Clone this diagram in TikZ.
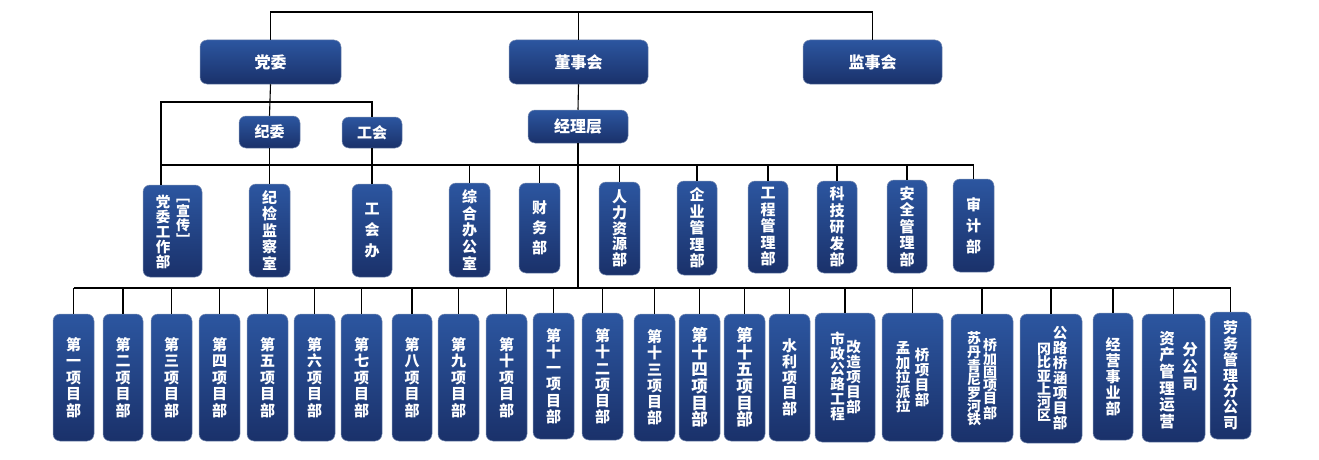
\documentclass[tikz,border=0pt]{standalone}
\usepackage{fontspec}
\newfontfamily\cjk{Noto Sans CJK SC}
\definecolor{boxtop}{RGB}{44,86,160}
\definecolor{boxbot}{RGB}{26,49,106}
\definecolor{boxedge}{RGB}{120,140,178}
\newcommand\vf[2]{\cjk\bfseries\fontsize{#1}{#2}\selectfont}
\tikzset{
  orgbox/.style={rounded corners=7pt, top color=boxtop, bottom color=boxbot,
    draw=boxedge, line width=0.5pt, inner sep=0pt, text=white, align=center,
    font=\vf{15}{16.5}},
  vtext/.style={text=white, align=center, inner sep=0pt},
  link/.style={draw=black, line width=1.1pt},
}
% [options]{name}{x1}{y1}{x2}{y2}{text}
\newcommand\obox[7][]{\node[orgbox,minimum width={#5-#3},minimum height={#6-#4},#1] (#2) at ({(#3+#5)/2},{(#4+#6)/2}) {#7};}
\begin{document}
\begin{tikzpicture}[x=1pt,y=-1pt]
\useasboundingbox (0,0) rectangle (1319,460);

% ---- bus coordinates
\coordinate (ttop) at (578.5,12);
\coordinate (bus1) at (161,102);
\coordinate (bus2) at (161,165);
\coordinate (bus3) at (74,288);

% ---- top level
\obox[font=\vf{16}{18}]{dangwei}{200}{40}{341}{84}{党委}
\obox[font=\vf{16}{18}]{dongshi}{509}{40}{648}{84}{董事会}
\obox[font=\vf{16}{18}]{jianshi}{803}{40}{942}{84}{监事会}

\obox[font=\vf{15}{17}]{jiwei}{239}{116}{300}{148}{纪委}
\obox[font=\vf{15}{17}]{gonghui}{342}{117}{402}{148}{工会}
\obox[font=\vf{16}{18}]{jingli}{528}{110}{628}{143}{经理层}

% ---- second row
\obox{p1}{143}{185}{202}{277}{}
\node[vtext,font=\vf{14.5}{15}] (p1a) at (163,231.5) {党\\委\\工\\作\\部};
\node[vtext,font=\vf{14}{14.5}] (p1b) at (183,222.5) {﹇\\宣\\传\\﹈};
\obox[font=\vf{15}{16.5}]{p2}{249}{184}{290}{277}{纪\\检\\监\\察\\室}
\obox[font=\vf{15}{21}]{p3}{352}{184}{392}{277}{工\\会\\办}
\obox[font=\vf{15}{16.7}]{p4}{449}{183}{490}{277}{综\\合\\办\\公\\室}
\obox[font=\vf{15}{20}]{p5}{519}{183}{560}{273}{财\\务\\部}
\obox[font=\vf{15}{15.8}]{p6}{599}{182}{640}{275}{人\\力\\资\\源\\部}
\obox[font=\vf{15}{16.5}]{p7}{677}{181}{717}{275}{企\\业\\管\\理\\部}
\obox[font=\vf{15}{16.5}]{p8}{748}{181}{788}{273}{工\\程\\管\\理\\部}
\obox[font=\vf{15}{16.5}]{p9}{817}{181}{857}{273}{科\\技\\研\\发\\部}
\obox[font=\vf{15}{16.5}]{p10}{887}{180}{927}{273}{安\\全\\管\\理\\部}
\obox[font=\vf{15}{21}]{p11}{953}{179}{994}{272}{审\\计\\部}

% ---- third row
\obox{b1}{53}{314}{94}{441}{第\\一\\项\\目\\部}
\obox{b2}{103}{314}{143}{441}{第\\二\\项\\目\\部}
\obox{b3}{151}{314}{192}{441}{第\\三\\项\\目\\部}
\obox{b4}{199}{314}{240}{441}{第\\四\\项\\目\\部}
\obox{b5}{247}{314}{288}{441}{第\\五\\项\\目\\部}
\obox{b6}{294}{314}{335}{441}{第\\六\\项\\目\\部}
\obox{b7}{341}{314}{382}{441}{第\\七\\项\\目\\部}
\obox{b8}{392}{314}{432}{441}{第\\八\\项\\目\\部}
\obox{b9}{438}{314}{479}{441}{第\\九\\项\\目\\部}
\obox{b10}{486}{314}{527}{441}{第\\十\\项\\目\\部}
\obox[font=\vf{15}{16.2}]{b11}{533}{313}{574}{439}{第\\十\\一\\项\\目\\部}
\obox[font=\vf{15}{16.2}]{b12}{582}{313}{623}{440}{第\\十\\二\\项\\目\\部}
\obox[font=\vf{15}{16.2}]{b13}{634}{314}{675}{441}{第\\十\\三\\项\\目\\部}
\obox[font=\vf{16.5}{16.8}]{b14}{679}{314}{720}{441}{第\\十\\四\\项\\目\\部}
\obox[font=\vf{16.5}{16.8}]{b15}{724}{314}{765}{441}{第\\十\\五\\项\\目\\部}
\obox[font=\vf{15}{15.8}]{b16}{769}{314}{810}{441}{水\\利\\项\\目\\部}
\obox{b17}{815}{313}{875}{442}{}
\node[vtext,font=\vf{14.5}{15}] (b17a) at (837.5,376) {市\\政\\公\\路\\工\\程};
\node[vtext,font=\vf{14.5}{15}] (b17b) at (853.5,376.5) {改\\造\\项\\目\\部};
\obox{b18}{882}{313}{943}{441}{}
\node[vtext,font=\vf{14.5}{14.5}] (b18a) at (903,377.5) {孟\\加\\拉\\派\\拉};
\node[vtext,font=\vf{14.5}{15.3}] (b18b) at (922,377.5) {桥\\项\\目\\部};
\obox{b19}{951}{314}{1013}{442}{}
\node[vtext,font=\vf{14}{13.3}] (b19a) at (974,379) {苏\\丹\\青\\尼\\罗\\河\\铁};
\node[vtext,font=\vf{14}{13.1}] (b19b) at (990,379) {桥\\加\\固\\项\\目\\部};
\obox{b20}{1020}{314}{1082}{443}{}
\node[vtext,font=\vf{14}{13.3}] (b20a) at (1044,382.5) {冈\\比\\亚\\上\\河\\区};
\node[vtext,font=\vf{14.5}{15}] (b20b) at (1060,378.5) {公\\路\\桥\\涵\\项\\目\\部};
\obox[font=\vf{15}{16}]{b21}{1093}{313}{1133}{440}{经\\营\\事\\业\\部}
\obox{b22}{1142}{314}{1205}{442}{}
\node[vtext,font=\vf{15.5}{16.6}] (b22a) at (1167,380) {资\\产\\管\\理\\运\\营};
\node[vtext,font=\vf{15.5}{17}] (b22b) at (1190,366.5) {分\\公\\司};
\obox[font=\vf{15}{15.8}]{b23}{1210}{312}{1251}{439}{劳\\务\\管\\理\\分\\公\\司}

% ---- connectors
\draw[link] (dangwei.north) -- (dangwei.north |- ttop) -- (jianshi.north |- ttop) -- (jianshi.north);
\draw[link] (dongshi.north) -- (dongshi.north |- ttop);
\draw[link] (dongshi.south) -- (jingli.north);
\draw[link] (jingli.south) -- (jingli.south |- bus3);

\draw[link] (dangwei.south) -- (jiwei.north);
\draw[link] (gonghui.north) |- (bus1) -- (bus1 |- p1.north);
\draw[link] (bus2) -- (p11.north |- bus2);
\draw[link] (jiwei.south) -- (jiwei.south |- p2.north);
\draw[link] (gonghui.south) -- (gonghui.south |- p3.north);
\foreach \i in {4,...,11} \draw[link] (p\i.north) -- (p\i.north |- bus2);

\draw[link] (b1.north |- bus3) -- (b23.north |- bus3);
\foreach \i in {1,...,23} \draw[link] (b\i.north) -- (b\i.north |- bus3);
\end{tikzpicture}
\end{document}
